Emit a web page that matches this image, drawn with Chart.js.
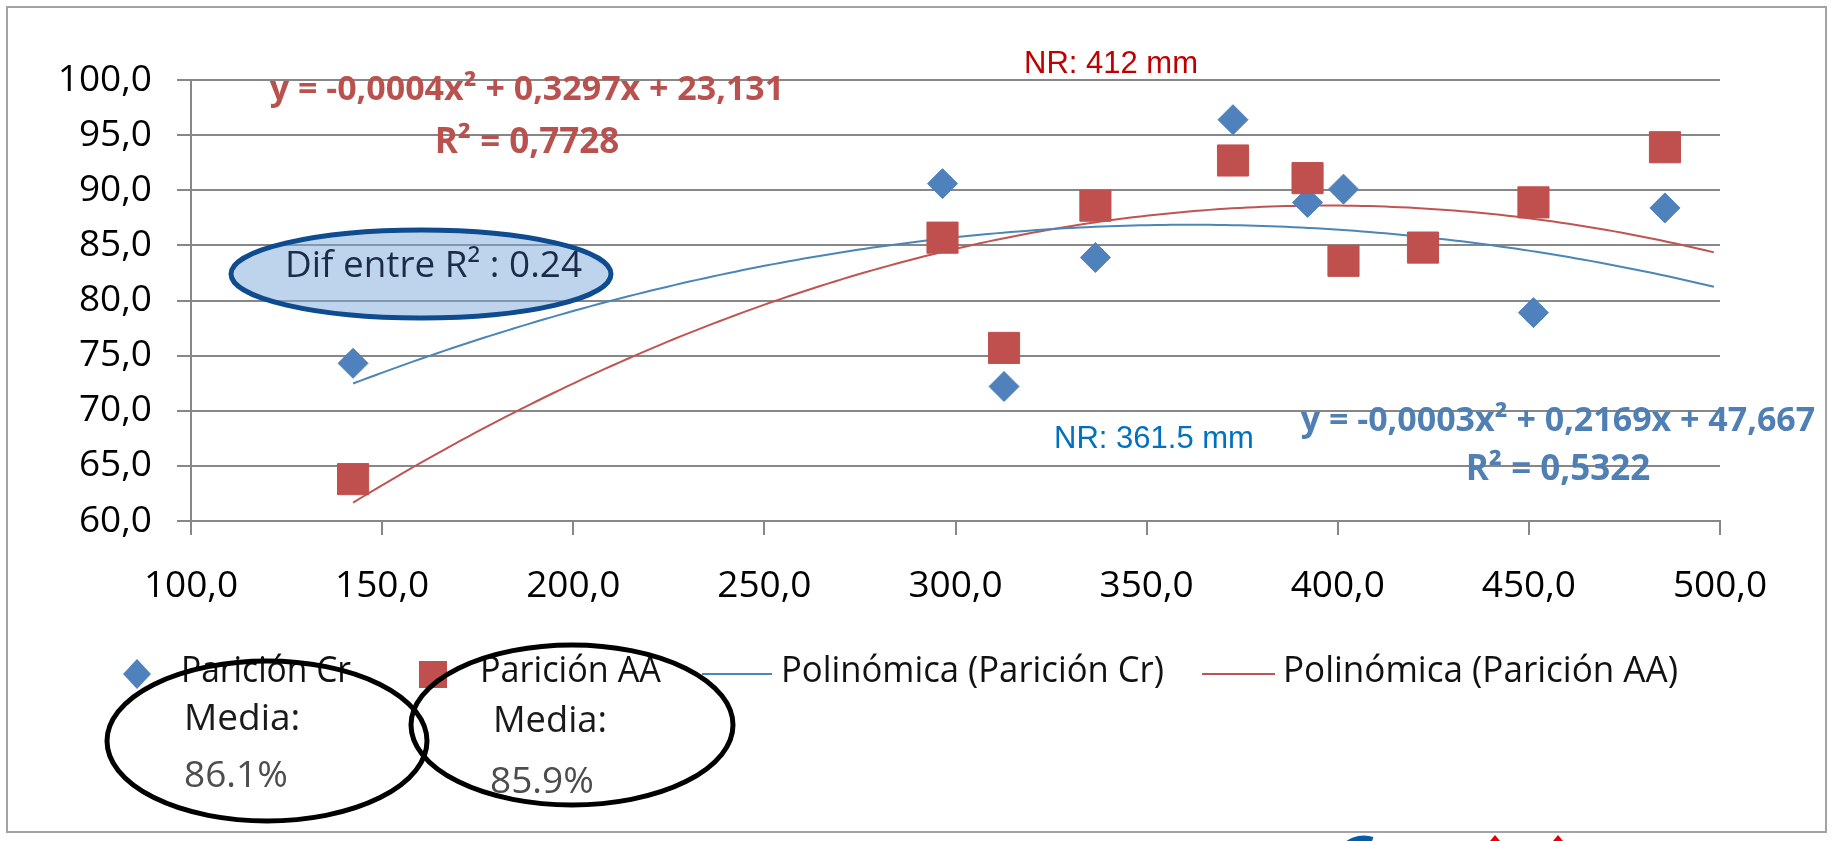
<!DOCTYPE html>
<html lang="es">
<head>
<meta charset="UTF-8">
<title>Parición Cr / Parición AA según lluvia</title>
<script src="https://cdn.jsdelivr.net/npm/chart.js"></script>
<style>
  html, body { margin: 0; padding: 0; background: #fff; }
  canvas { display: block; }
</style>
</head>
<body>
<canvas id="paricionChart" width="1833" height="841"></canvas>
<script>
// lluvia (mm) en x, parición (%) en y
const crX = [142.4, 296.6, 312.7, 336.6, 372.6, 392.1, 401.5, 451.2, 485.6];
const crY = [74.3, 90.6, 72.2, 83.9, 96.4, 88.9, 90.1, 78.9, 88.4];
const aaX = [142.4, 296.6, 312.7, 336.6, 372.6, 392.1, 401.5, 422.3, 451.2, 485.6];
const aaY = [63.8, 85.7, 75.7, 88.6, 92.7, 91.1, 83.6, 84.8, 88.9, 93.9];

// coeficientes de las tendencias polinómicas [a, b, c] para y = a·x² + b·x + c
const crCoef = [-0.0003, 0.2169, 47.667];
const aaCoef = [-0.000415, 0.3297, 23.131];

const seriesNames = ['Parición Cr', 'Parición AA', 'Polinómica (Parición Cr)', 'Polinómica (Parición AA)'];
const xRange = [100, 500, 50];
const yRange = [60, 100, 5];

const eqCr = ['y = -0,0003x² + 0,2169x + 47,667', 'R² = 0,5322'];
const eqAA = ['y = -0,0004x² + 0,3297x + 23,131', 'R² = 0,7728'];
const nrCr = 'NR: 361.5 mm';
const nrAA = 'NR: 412 mm';
const difText = 'Dif entre R² : 0.24';
const mediaCr = ['Media:', '86.1%'];
const mediaAA = ['Media:', '85.9%'];

const BLUE = '#4f81bd';
const RED = '#c0504d';
const GRID = '#878787';

// curva de tendencia desde el primer dato hasta el final del eje
function trendPoints(xs, coef) {
  const [a, b, c] = coef;
  const pts = [];
  for (let x = Math.min(...xs); x <= xRange[1]; x += 2) {
    pts.push({ x: x, y: a * x * x + b * x + c });
  }
  return pts;
}

const toPoints = (xs, ys) => xs.map((x, i) => ({ x: x, y: ys[i] }));
const comma = v => v.toFixed(1).replace('.', ',');

function text(ctx, str, x, y, font, color, align, maxWidth) {
  ctx.font = font;
  ctx.fillStyle = color;
  ctx.textAlign = align || 'left';
  ctx.textBaseline = 'alphabetic';
  if (maxWidth) ctx.fillText(str, x, y, maxWidth);
  else ctx.fillText(str, x, y);
}

function ellipse(ctx, cx, cy, rx, ry, stroke, width, fill) {
  ctx.beginPath();
  ctx.ellipse(cx, cy, rx, ry, 0, 0, Math.PI * 2);
  if (fill) { ctx.fillStyle = fill; ctx.fill(); }
  ctx.lineWidth = width;
  ctx.strokeStyle = stroke;
  ctx.stroke();
}

// etiquetas, leyenda y marcos dibujados encima del gráfico
const overlay = {
  id: 'overlay',
  afterDraw(chart) {
    const ctx = chart.ctx;
    const ds = chart.data.datasets;
    ctx.save();

    // marco exterior
    ctx.strokeStyle = '#a3a3a3';
    ctx.lineWidth = 2;
    ctx.strokeRect(7, 7, 1819, 825);

    // ecuaciones de las tendencias
    text(ctx, eqAA[0], 527, 100, 'bold 34px "Open Sans"', '#b9524f', 'center', 520);
    text(ctx, eqAA[1], 527, 153, 'bold 35px "Open Sans"', '#b9524f', 'center', 186);
    text(ctx, eqCr[0], 1558, 431, 'bold 34px "Open Sans"', '#4f7fb3', 'center', 524);
    text(ctx, eqCr[1], 1558, 480, 'bold 35px "Open Sans"', '#4f7fb3', 'center', 186);

    text(ctx, nrAA, 1111, 73, '31px "Liberation Sans"', '#c00000', 'center');
    text(ctx, nrCr, 1154, 448, '31px "Liberation Sans"', '#0070c0', 'center');

    // óvalo con la diferencia de R²
    ellipse(ctx, 421, 274, 190, 44, '#0f4c8f', 5, 'rgba(125,169,217,0.5)');
    text(ctx, difText, 285, 277, '37px "Open Sans"', '#1c2b4a', 'left', 297);

    // leyenda
    const ly = 674;
    ctx.fillStyle = ds[0].backgroundColor;
    ctx.beginPath();
    ctx.moveTo(137, ly - 15); ctx.lineTo(151, ly); ctx.lineTo(137, ly + 15); ctx.lineTo(123, ly);
    ctx.closePath(); ctx.fill();
    ctx.fillStyle = ds[1].backgroundColor;
    ctx.fillRect(419, ly - 13, 28, 27);
    ctx.lineWidth = 2;
    ctx.strokeStyle = ds[2].borderColor;
    ctx.beginPath(); ctx.moveTo(702, ly); ctx.lineTo(772, ly); ctx.stroke();
    ctx.strokeStyle = ds[3].borderColor;
    ctx.beginPath(); ctx.moveTo(1202, ly); ctx.lineTo(1275, ly); ctx.stroke();

    const lf = '36px "Open Sans"';
    text(ctx, ds[0].label, 181, 682, lf, '#111', 'left', 170);
    text(ctx, ds[1].label, 480, 682, lf, '#111', 'left', 181);
    text(ctx, ds[2].label, 781, 682, lf, '#111', 'left', 383);
    text(ctx, ds[3].label, 1283, 682, lf, '#111', 'left', 395);

    // medias de cada serie
    text(ctx, mediaCr[0], 184, 730, '37px "Open Sans"', '#1a1a1a', 'left', 120);
    text(ctx, mediaCr[1], 184, 787, '37px "Open Sans"', '#4d4d4d', 'left', 106);
    text(ctx, mediaAA[0], 493, 732, '37px "Open Sans"', '#1a1a1a', 'left', 114);
    text(ctx, mediaAA[1], 490, 793, '37px "Open Sans"', '#4d4d4d', 'left', 106);
    ellipse(ctx, 267, 741, 160, 80, '#000', 5);
    ellipse(ctx, 572, 725, 161, 80, '#000', 5);

    // borde superior del logotipo, cortado abajo
    ctx.strokeStyle = '#0b5aa5';
    ctx.lineWidth = 7;
    ctx.beginPath();
    ctx.arc(1364, 866, 27, Math.PI * 1.15, Math.PI * 1.6);
    ctx.stroke();
    ctx.fillStyle = '#e60000';
    [1495, 1558].forEach(x => {
      ctx.beginPath();
      ctx.moveTo(x, 835); ctx.lineTo(x + 5, 841); ctx.lineTo(x - 5, 841);
      ctx.closePath(); ctx.fill();
    });

    ctx.restore();
  }
};

const tickFont = { family: 'Open Sans', size: 37 };

new Chart(document.getElementById('paricionChart'), {
  type: 'scatter',
  data: {
    datasets: [
      {
        label: seriesNames[0],
        data: toPoints(crX, crY),
        pointStyle: 'rectRot',
        pointRadius: 15,
        backgroundColor: BLUE,
        borderColor: BLUE,
        borderWidth: 1,
        order: 1
      },
      {
        label: seriesNames[1],
        data: toPoints(aaX, aaY),
        pointStyle: 'rect',
        pointRadius: 22,
        backgroundColor: RED,
        borderColor: RED,
        borderWidth: 1,
        order: 0
      },
      {
        label: seriesNames[2],
        data: trendPoints(crX, crCoef),
        showLine: true,
        pointRadius: 0,
        borderColor: '#4a86b6',
        borderWidth: 2,
        order: 2
      },
      {
        label: seriesNames[3],
        data: trendPoints(aaX, aaCoef),
        showLine: true,
        pointRadius: 0,
        borderColor: '#bf5552',
        borderWidth: 2,
        order: 3
      }
    ]
  },
  options: {
    responsive: false,
    animation: false,
    layout: { padding: { left: 0, right: 113, top: 80, bottom: 0 } },
    plugins: {
      legend: { display: false },
      tooltip: { enabled: false }
    },
    scales: {
      x: {
        type: 'linear',
        min: xRange[0],
        max: xRange[1],
        ticks: { stepSize: xRange[2], padding: 29, color: '#000', font: tickFont, callback: v => comma(v) },
        grid: { drawOnChartArea: false, tickLength: 14, tickColor: GRID, lineWidth: 2 },
        border: { color: GRID, width: 2 },
        afterFit: s => { s.height = 320; }
      },
      y: {
        min: yRange[0],
        max: yRange[1],
        ticks: { stepSize: yRange[2], padding: 25, color: '#000', font: tickFont, callback: v => comma(v) },
        grid: { color: GRID, lineWidth: 2, tickLength: 14 },
        border: { color: GRID, width: 2 },
        afterFit: s => { s.width = 191; }
      }
    }
  },
  plugins: [overlay]
});
</script>
</body>
</html>
